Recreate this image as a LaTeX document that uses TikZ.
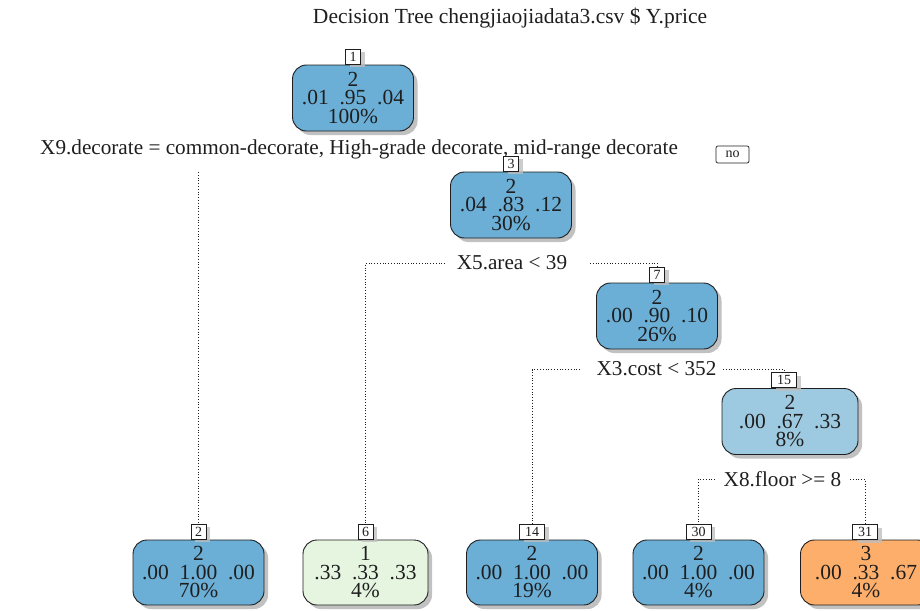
\documentclass[tikz,border=0pt]{standalone}
\usepackage{fontspec}
\setmainfont{Liberation Serif}
\usetikzlibrary{shadows}
\definecolor{blueA}{RGB}{107,174,214}
\definecolor{blueB}{RGB}{158,202,225}
\definecolor{greenA}{RGB}{229,245,224}
\definecolor{orangeA}{RGB}{253,174,107}
\definecolor{inkA}{RGB}{30,30,30}
\tikzset{
  treebox/.style={draw=inkA, line width=0.9pt, rounded corners=14pt,
    minimum width=121pt, minimum height=66pt, inner sep=0pt, align=center,
    text=inkA, font=\fontsize{21.5}{18.5}\selectfont,
    drop shadow={shadow xshift=4pt, shadow yshift=-4pt, fill=black!30, opacity=0.8}},
  leafbox/.style={treebox, minimum width=131pt, minimum height=65pt},
  idbox/.style={draw=inkA, fill=white, line width=0.7pt, inner sep=0pt,
    minimum height=15pt, minimum width=15pt, text=inkA,
    font=\fontsize{14}{14}\selectfont,
    drop shadow={shadow xshift=4pt, shadow yshift=-3pt, fill=black!25, opacity=0.8}},
  splittext/.style={inner sep=0pt, text=inkA, font=\fontsize{21.2}{21}\selectfont},
  link/.style={draw=inkA, line width=0.8pt, dotted},
}
\newcommand{\gp}{\hspace{0.5em}}
\begin{document}
\begin{tikzpicture}[x=1pt, y=-1pt]
\useasboundingbox (0,0) rectangle (920,610);

% title
\node[splittext, font=\fontsize{21.5}{21}\selectfont] (title) at (510,18) {Decision Tree chengjiaojiadata3.csv \$ Y.price};

% root
\node[treebox, fill=blueA] (n1) at (353,98) {2\\.01\gp.95\gp.04\\100\%};
\node[idbox, anchor=south] (l1) at (n1.north) {1};
\node[splittext, anchor=base west] (s1) at (40,154) {X9.decorate = common-decorate, High-grade decorate, mid-range decorate};
\node[draw=inkA, line width=0.7pt, rounded corners=2pt, inner sep=0pt, minimum width=33pt, minimum height=17pt, font=\fontsize{14}{14}\selectfont, text=inkA] (no) at (732.5,154.5) {no};

% node 3
\node[treebox, fill=blueA] (n3) at (511,205) {2\\.04\gp.83\gp.12\\30\%};
\node[idbox, anchor=south] (l3) at (n3.north) {3};
\node[splittext, anchor=base] (s3) at (512,269) {X5.area < 39};

% node 7
\node[treebox, fill=blueA] (n7) at (657,316) {2\\.00\gp.90\gp.10\\26\%};
\node[idbox, anchor=south] (l7) at (n7.north) {7};
\node[splittext, anchor=base] (s7) at (656.5,375) {X3.cost < 352};

% node 15
\node[treebox, fill=blueB, minimum width=136pt] (n15) at (790,421.5) {2\\.00\gp.67\gp.33\\8\%};
\node[idbox, anchor=south, minimum width=25pt] (l15) at (784,388) {15};
\node[splittext, anchor=base] (s15) at (782.5,486) {X8.floor >= 8};

% leaves
\node[leafbox, fill=blueA] (n2) at (198.5,572.5) {2\\.00\gp1.00\gp.00\\70\%};
\node[idbox, anchor=south] (l2) at (n2.north) {2};
\node[leafbox, fill=greenA, minimum width=125pt] (n6) at (365.5,572.5) {1\\.33\gp.33\gp.33\\4\%};
\node[idbox, anchor=south] (l6) at (n6.north) {6};
\node[leafbox, fill=blueA] (n14) at (532,572.5) {2\\.00\gp1.00\gp.00\\19\%};
\node[idbox, anchor=south, minimum width=25pt] (l14) at (n14.north) {14};
\node[leafbox, fill=blueA] (n30) at (698.5,572.5) {2\\.00\gp1.00\gp.00\\4\%};
\node[idbox, anchor=south, minimum width=25pt] (l30) at (n30.north) {30};
\node[leafbox, fill=orangeA] (n31) at (866,572.5) {3\\.00\gp.33\gp.67\\4\%};
\node[idbox, anchor=south, minimum width=25pt] (l31) at (865,540) {31};

% branches
\coordinate (b2) at (198.5,172);
\draw[link] (b2) -- (l2.north);

\coordinate (a6) at (445,263);
\coordinate (a7) at (590,263);
\draw[link] (a6) -- (l6.north |- a6) -- (l6.north);
\draw[link] (a7) -- (l7.north |- a7) -- (l7.north);

\coordinate (a14) at (580,369.5);
\coordinate (a15) at (723,369.5);
\draw[link] (a14) -- (l14.north |- a14) -- (l14.north);
\draw[link] (a15) -- (l15.north |- a15) -- (l15.north);

\coordinate (a30) at (715,479);
\coordinate (a31) at (850,479);
\draw[link] (a30) -- (l30.north |- a30) -- (l30.north);
\draw[link] (a31) -- (l31.north |- a31) -- (l31.north);
\end{tikzpicture}
\end{document}
